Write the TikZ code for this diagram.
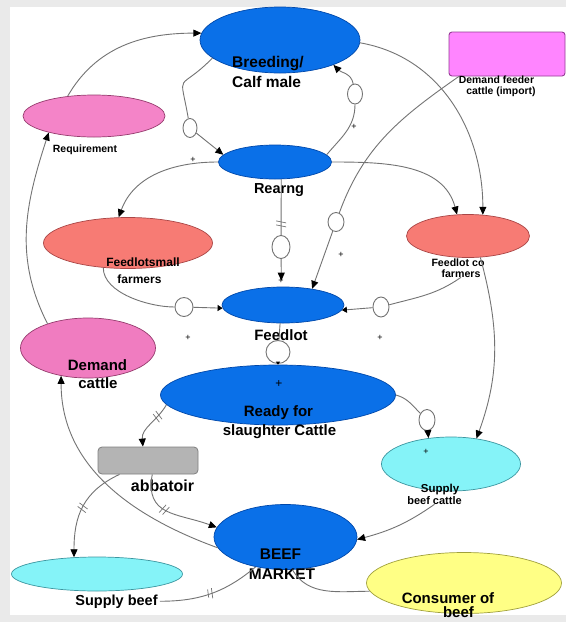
\documentclass[tikz,border=0pt]{standalone}
\usepackage{fontspec}
\setmainfont{Liberation Sans}
\usetikzlibrary{shapes.geometric,arrows.meta,decorations.markings}

\definecolor{stockblue}{RGB}{10,112,232}
\definecolor{stockblueline}{RGB}{0,72,170}
\definecolor{reqpink}{RGB}{244,132,200}
\definecolor{dempink}{RGB}{240,124,192}
\definecolor{pinkline}{RGB}{150,60,110}
\definecolor{salmon}{RGB}{247,123,116}
\definecolor{salmonline}{RGB}{170,70,70}
\definecolor{importpink}{RGB}{255,133,255}
\definecolor{importline}{RGB}{150,60,150}
\definecolor{supplycyan}{RGB}{133,243,248}
\definecolor{cyanline}{RGB}{60,150,160}
\definecolor{consyellow}{RGB}{255,255,133}
\definecolor{yellowline}{RGB}{160,160,60}
\definecolor{abbgray}{RGB}{180,180,180}
\definecolor{linkgray}{RGB}{115,115,115}
\definecolor{paper}{RGB}{234,234,234}

\tikzset{
  blob/.style={ellipse, inner sep=0pt, line width=0.7pt},
  link/.style={draw=linkgray, line width=0.9pt},
  arr/.style={-{Triangle[length=8pt,width=7pt,color=black]}},
  arrs/.style={-{Triangle[length=5pt,width=6pt,color=black]}},
  valve/.style={ellipse, draw=linkgray, fill=white, line width=0.9pt, inner sep=0pt},
  lbl/.style={inner sep=0pt, anchor=base, font=\bfseries\fontsize{#1}{#1}\selectfont},
  plus/.style={inner sep=0pt, font=\fontsize{#1}{#1}\selectfont},
  delay/.style={postaction={decorate,decoration={markings,
     mark=at position #1 with {\draw[-,linkgray,line width=0.7pt] (-3,-5)--(-1,5) (1,-5)--(3,5);}}}},
}

\begin{document}
\begin{tikzpicture}[x=1pt,y=1pt]
% paper
\fill[paper] (0,0) rectangle (566,-622);
\fill[white] (10,-7) rectangle (566,-615);
\useasboundingbox (0,0) rectangle (566,-622);

% stocks and variables
\node[blob, fill=stockblue, draw=stockblueline, minimum width=160pt, minimum height=66pt] (breed) at (280,-40) {};
\node[draw=importline, fill=importpink, line width=0.9pt, rounded corners=3pt, inner sep=0pt,
      minimum width=116pt, minimum height=44pt] (dfc) at (507,-54) {};
\node[blob, fill=reqpink, draw=pinkline, minimum width=142pt, minimum height=42pt] (req) at (94,-116) {};
\node[blob, fill=stockblue, draw=stockblueline, minimum width=113pt, minimum height=34pt] (rear) at (275,-162) {};
\node[blob, fill=salmon, draw=salmonline, minimum width=169pt, minimum height=51pt] (fsm) at (128,-243) {};
\node[blob, fill=salmon, draw=salmonline, minimum width=123pt, minimum height=43pt] (fco) at (468,-236) {};
\node[blob, fill=stockblue, draw=stockblueline, minimum width=122pt, minimum height=36pt] (feed) at (283,-305) {};
\node[blob, fill=dempink, draw=pinkline, minimum width=135pt, minimum height=60pt] (dc) at (88,-348) {};
\node[blob, fill=stockblue, draw=stockblueline, minimum width=235pt, minimum height=60pt] (ready) at (278,-395) {};
\node[draw=gray, fill=abbgray, line width=0.8pt, rounded corners=4pt, inner sep=0pt,
      minimum width=100pt, minimum height=27pt] (abb) at (148,-460.5) {};
\node[blob, fill=supplycyan, draw=cyanline, minimum width=139pt, minimum height=54pt] (sbc) at (451,-464) {};
\node[blob, fill=stockblue, draw=stockblueline, minimum width=143pt, minimum height=65pt] (bm) at (285.5,-537) {};
\node[blob, fill=supplycyan, draw=cyanline, minimum width=171pt, minimum height=34pt] (sb) at (97,-574) {};
\node[blob, fill=consyellow, draw=yellowline, minimum width=195pt, minimum height=61pt] (cons) at (464,-583) {};

% flow valves
\node[valve, minimum width=14pt, minimum height=19pt] (v1) at (190,-128) {};
\node[valve, minimum width=15pt, minimum height=20pt] (v2) at (355,-94) {};
\node[valve, minimum width=16pt, minimum height=19pt] (v3) at (336,-222) {};
\node[valve, minimum width=18pt, minimum height=23pt] (v4) at (281,-247) {};
\node[valve, minimum width=18pt, minimum height=19pt] (v5) at (184,-307) {};
\node[valve, minimum width=16pt, minimum height=20pt] (v6) at (381,-307) {};
\node[valve, minimum width=24pt, minimum height=23pt] (v7) at (278,-352) {};
\node[valve, minimum width=16pt, minimum height=21pt] (v8) at (427,-420) {};

% labels
\node[lbl=15.5, anchor=base west] (breedT1) at (232,-67) {Breeding/};
\node[lbl=15.5, anchor=base west] (breedT2) at (232,-87) {Calf male};
\node[lbl=10.4] (dfcT1) at (496.5,-83) {Demand feeder};
\node[lbl=10.4] (dfcT2) at (501,-94) {cattle (import)};
\node[lbl=10.5] (reqT) at (85,-152) {Requirement};
\node[lbl=14.5] (rearT) at (279,-193) {Rearng};
\node[lbl=12] (fsmT1) at (143,-266) {Feedlotsmall};
\node[lbl=12] (fsmT2) at (139.5,-283.5) {farmers};
\node[lbl=10.6] (fcoT1) at (458,-266) {Feedlot co};
\node[lbl=10.6] (fcoB) at (461,-277) {farmers};
\node[lbl=15] (feedT) at (281,-340) {Feedlot};
\node[lbl=15] (dcT1) at (97.5,-370) {Demand};
\node[lbl=15] (dcT2) at (98,-388.5) {cattle};
\node[lbl=15] (readyT1) at (278.5,-416.5) {Ready for};
\node[lbl=15] (readyT2) at (279.5,-435.5) {slaughter Cattle};
\node[lbl=16] (abbT) at (162.5,-491) {abbatoir};
\node[lbl=11.5] (sbcT1) at (440,-492) {Supply};
\node[lbl=11] (sbcB) at (434.5,-504) {beef cattle};
\node[lbl=15.5] (bmT1) at (280.5,-559) {BEEF};
\node[lbl=15.5] (bmT2) at (282,-579) {MARKET};
\node[lbl=14.5] (sbL) at (116.5,-605) {Supply beef};
\node[lbl=15] (consT1) at (448,-603) {Consumer of};
\node[lbl=15] (consT2) at (458.5,-617) {beef};

% links
\draw[link,arr] (req.143) to[out=60,in=180] (breed.175);
\draw[link,arr] (dc.149) to[out=117,in=252] (req.200);
\draw[link] (breed.195) to[out=225,in=100,looseness=2] (v1);
\draw[link,arr] (v1) -- (rear.172);
\draw[link] (rear.8) to[out=50,in=-90] (v2);
\draw[link,arr] (v2) to[out=100,in=-45] (breed.-25);
\draw[link,arr] (rear.180) to[out=180,in=70] (fsm.110);
\draw[link,arr] (rear.0) to[out=0,in=105] (fco.117);
\draw[link,arr] (breed.-2) to[out=-10,in=90] (fco.55);
\draw[link] (dfc.205) to[out=215,in=70] (v3);
\draw[link,arr] (v3) -- (feed.29);
\draw[link,delay=0.8] (rear.-70) -- (v4);
\draw[link,arr,shorten >=6pt] (v4) -- (feed.95);
\draw[link] (fsm.225) to[out=-90,in=180,looseness=0.8] (v5);
\draw[link,arrs] (v5) -- (feed.183);
\draw[link] (fcoB.south) to[out=-145,in=15] (v6);
\draw[link,arrs] (v6) -- (feed.-5);
\draw[link] (feed.-99) -- (v7);
\draw[link,-{Triangle[length=3pt,width=4pt,color=black]}] (v7) -- (ready.north);
\draw[link,arr] (fco.-60) to[out=-75,in=70] (sbc.45);
\draw[link] (ready.0) to[out=-15,in=135] (v8);
\draw[link,arr] (v8) -- (sbc.131);
\draw[link,arr,delay=0.3] (ready.185) to[out=240,in=95] (abb.110);
\draw[link,arr] (bm.189) to[out=160,in=-90] (dc.226);
\draw[link,arr,delay=0.42] (abb.-73) to[out=-100,in=160,looseness=1.3] (bm.172);
\draw[link,arr,delay=0.5] (abb.206) to[out=205,in=90,looseness=1.1] (sb.144);
\draw[link,delay=0.5,shorten >=2pt] (bm.225) to[out=220,in=0] (sbL.east);
\draw[link] (cons.185) to[out=180,in=-60] (bm.-78);
\draw[link,arr] (sbcB.south) to[out=215,in=15] (bm.-2);

% polarity signs
\node[plus=9] (p1) at (193,-160) {+};
\node[plus=9] (p2) at (354,-127) {+};
\node[plus=9] (p3) at (341,-255) {+};
\node[plus=9] (p4) at (281,-281) {+};
\node[plus=9] (p5) at (188,-338) {+};
\node[plus=9] (p6) at (380,-338) {+};
\node[plus=12] (p7) at (279,-384) {+};
\node[plus=9] (p8) at (426,-452) {+};
\end{tikzpicture}
\end{document}
